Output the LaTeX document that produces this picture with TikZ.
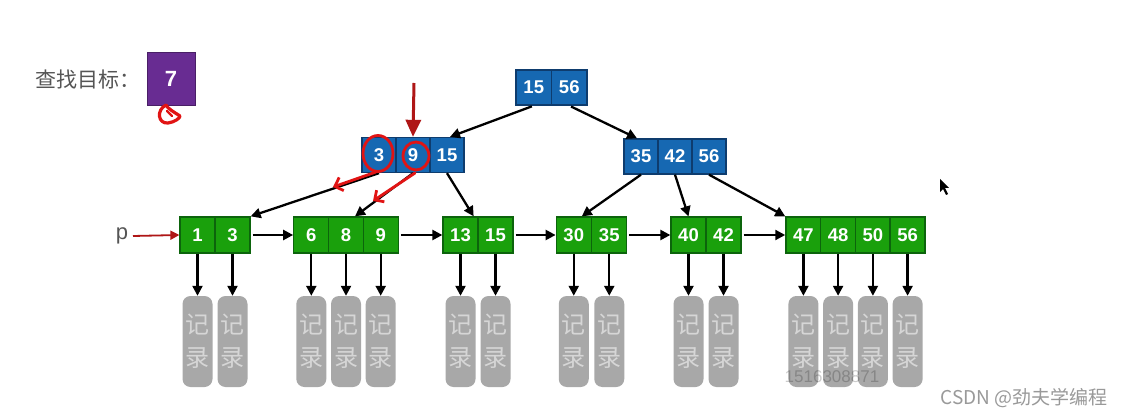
\documentclass[tikz,border=0pt]{standalone}
\usepackage{fontspec}
\setmainfont{Liberation Sans}
\newfontfamily\cjk{Noto Sans CJK SC}
\usetikzlibrary{arrows.meta,calc}
\definecolor{bfill}{RGB}{22,104,178}
\definecolor{bdraw}{RGB}{14,60,110}
\definecolor{gfill}{RGB}{26,160,12}
\definecolor{gdraw}{RGB}{12,100,12}
\definecolor{pfill}{RGB}{104,44,146}
\definecolor{recfill}{RGB}{168,168,168}
\definecolor{rectext}{RGB}{214,214,214}
\definecolor{annred}{RGB}{225,20,20}
\definecolor{darkred}{RGB}{175,22,22}
\definecolor{labgray}{RGB}{85,85,85}
\begin{document}
\begin{tikzpicture}[x=1pt,y=-1pt,
  cell/.style={draw, line width=1.3pt, inner sep=0pt, text=white, font=\bfseries\fontsize{18.5}{18.5}\selectfont},
  bcell/.style={cell, fill=bfill, draw=bdraw, minimum width=34pt, minimum height=35pt},
  gcell/.style={cell, fill=gfill, draw=gdraw, minimum width=35pt, minimum height=36pt},
  rec/.style={fill=recfill, rounded corners=8pt, minimum width=30pt, minimum height=91pt, inner sep=0pt, text=rectext, font=\cjk\fontsize{24}{33}\selectfont, align=center},
  arr/.style={-{Triangle[length=10pt,width=10pt]}, line width=2.3pt, black},
  redpen/.style={annred, line width=2.8pt, line cap=round, line join=round},
  redarr/.style={redpen, -{Straight Barb[length=7pt,width=14pt]}}
]
\useasboundingbox (0,0) rectangle (1125,417);
\fill[white] (0,0) rectangle (1125,417);

% search target
\node[anchor=west, text=labgray, font=\cjk\fontsize{21}{21}\selectfont] (lab) at (32,80) {查找目标：};
\node[fill=pfill, draw=pfill!70!black, line width=0.6pt, minimum width=48pt, minimum height=53pt, inner sep=0pt, text=white, font=\bfseries\fontsize{22}{22}\selectfont] (target) at (171,78.5) {7};
\draw[redpen, line width=3.2pt] (166,105) .. controls (156,110) and (158,124) .. (168,123)
   .. controls (175,122) and (180,118) .. (180,116) .. controls (174,112) and (168,109) .. (166,105);
\draw[redpen, line width=2.2pt] (167,111) -- (172,116);

% root
\node[bcell, minimum width=35.5pt] (r1) at (533.75,87.5) {15};
\node[bcell, minimum width=35.5pt] (r2) at (569.25,87.5) {56};

% level 2
\node[bcell] (b1) at (379,155) {3};
\node[bcell] (b2) at (413,155) {9};
\node[bcell] (b3) at (447,155) {15};
\node[bcell] (c1) at (641,156.5) {35};
\node[bcell] (c2) at (675,156.5) {42};
\node[bcell] (c3) at (709,156.5) {56};

% leaves and records
\foreach \n/\x/\t in {a1/197.5/1, a2/232.5/3,
    g1/311.3/6, g2/346/8, g3/380.7/9,
    h1/460.5/13, h2/495.5/15,
    i1/573.75/30, i2/609.25/35,
    j1/688.5/40, j2/723.5/42,
    k1/803.4/47, k2/838.1/48, k3/872.9/50, k4/907.6/56} {
  \node[gcell] (\n) at (\x,235) {\t};
  \node[rec] (rec\n) at (\x,341.5) {记\\录};
  \draw[arr] (\n.south) -- (rec\n.north);
}

% leaf links
\draw[arr, shorten <=2pt] (a2.east) -- (g1.west);
\draw[arr, shorten <=2pt] (g3.east) -- (h1.west);
\draw[arr, shorten <=2pt] (h2.east) -- (i1.west);
\draw[arr, shorten <=2pt] (i2.east) -- (j1.west);
\draw[arr, shorten <=2pt] (j2.east) -- (k1.west);

% p pointer
\node[text=labgray, font=\fontsize{22}{22}\selectfont] (p) at (122,236) {p};
\coordinate (pstart) at (133,236);
\draw[darkred, line width=1.8pt, -{Triangle[length=9pt,width=9pt]}] (pstart) -- (a1.west);

% tree edges
\draw[arr, shorten <=2pt] (r1.south) -- ($(b3.north)+(3,0)$);
\draw[arr, shorten <=2pt] (r2.south) -- ($(c1.north)+(-4,0)$);
\draw[arr] (b1.south) -- (a2.north east);
\draw[arr] (b2.south) -- ($(g2.north)+(9,0)$);
\draw[arr] (b3.south) -- ($(h1.north east)+(-5,0)$);
\draw[arr] (c1.south) -- ($(i1.north)+(8,0)$);
\draw[arr] (c2.south) -- (j1.north);
\draw[arr] (c3.south) -- (k1.north west);

% red annotations
\coordinate (dtop) at (414,83);
\draw[darkred, line width=3pt, -{Triangle[length=17pt,width=15pt]}] (dtop) -- (b2.north);
\draw[redpen] (378,153.5) ellipse [x radius=15, y radius=18];
\draw[redpen] (416,156) ellipse [x radius=13, y radius=14];
\draw[redarr] (376,172) -- (333,187);
\draw[redarr] (415,173) -- (373,201);

% cursor
\fill[black] (940,179) -- (940,192) -- (943,189) -- (946,195) -- (948,194) -- (945,188) -- (949,188) -- cycle;

% watermarks
\node[text=black, opacity=0.2, font=\fontsize{17}{17}\selectfont] (wm) at (832,377) {1516308871};
\node[text=black!40, font=\cjk\fontsize{19}{19}\selectfont] (csdn) at (1024,398) {CSDN @劲夫学编程};
\end{tikzpicture}
\end{document}
